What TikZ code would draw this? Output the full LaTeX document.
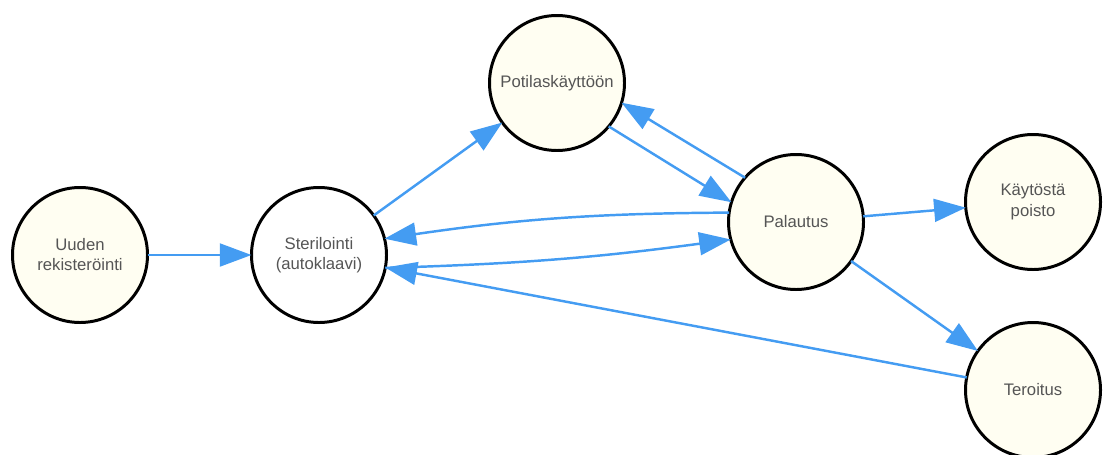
\documentclass[tikz,border=0pt]{standalone}
\usepackage{fontspec}
\setmainfont{Liberation Sans}
\usetikzlibrary{arrows.meta}
\definecolor{flowblue}{HTML}{449CF2}
\definecolor{statecream}{HTML}{FFFEF2}
\definecolor{labelgray}{HTML}{555555}

\begin{document}
\begin{tikzpicture}[
  state/.style={circle, draw=black, line width=1.7pt, fill=statecream,
    minimum size=2.7cm, inner sep=0pt, outer sep=0pt, align=center,
    text=labelgray, font=\fontsize{9.5}{11.4}\selectfont},
  flow/.style={draw=flowblue, line width=1.4pt,
    -{Triangle[length=18pt,width=13pt]}}
]
\clip (0,0) rectangle (22.06,9.08);
%States
  \node[state] (uusi) at (1.6,3.98) {Uuden\\rekisteröinti};
  \node[state, fill=white] (steril) at (6.38,3.98) {Sterilointi\\(autoklaavi)};
  \node[state] (potilas) at (11.14,7.42) {Potilaskäyttöön};
  \node[state] (palautus) at (15.92,4.64) {Palautus};
  \node[state] (poisto) at (20.66,5.04) {Käytöstä\\poisto};
  \node[state] (teroitus) at (20.66,1.28) {Teroitus};
%Transitions
  \draw[flow] (uusi) -- (steril);
  \draw[flow] (steril) -- (potilas);
  %back and forth with the patient
  \draw[flow] (potilas.-40) -- (palautus.163);
  \draw[flow] (palautus.139) -- (potilas.-17);
  %back to sterilising
  \draw[flow] (palautus.172) to[bend right=4] (steril.14);
  \draw[flow] (steril.-11) to[bend right=3] (palautus.195);
  \draw[flow] (teroitus) -- (steril);
  %out of use or sharpening
  \draw[flow] (palautus) -- (poisto);
  \draw[flow] (palautus) -- (teroitus);
\end{tikzpicture}
\end{document}
